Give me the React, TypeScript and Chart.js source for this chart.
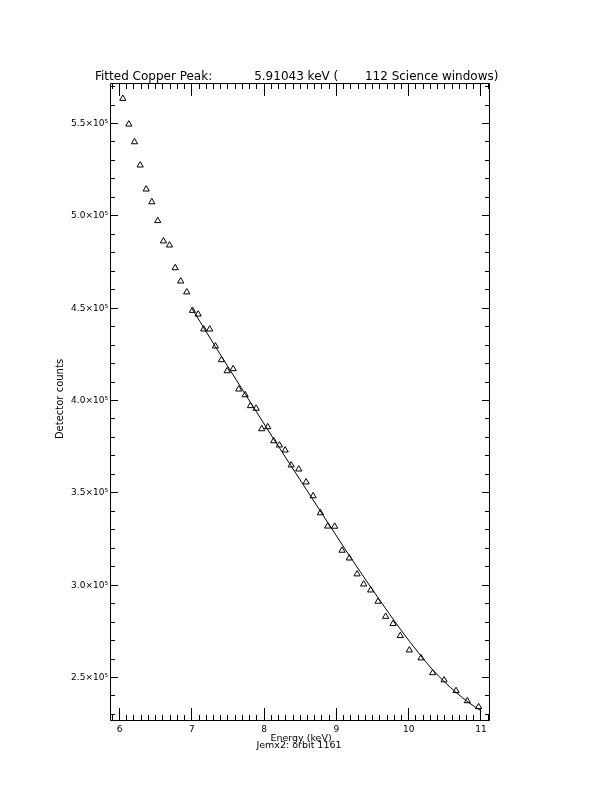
import React, { useEffect, useRef } from 'react';
import { Chart, registerables } from 'chart.js';

Chart.register(...registerables);

// ---- texts ----
const titleText = 'Fitted Copper Peak:           5.91043 keV (       112 Science windows)';
const xAxisTitle = 'Energy (keV)';
const xSubTitle = 'Jemx2: orbit 1161';
const yAxisTitle = 'Detector counts';

// ---- measured spectrum (triangles) ----
const energies = [
  6.046, 6.129, 6.207, 6.286, 6.369, 6.447, 6.529, 6.608, 6.691, 6.770,
  6.847, 6.930, 7.009, 7.088, 7.165, 7.248, 7.327, 7.410, 7.489, 7.572,
  7.649, 7.738, 7.811, 7.890, 7.967, 8.050, 8.133, 8.212, 8.291, 8.374,
  8.479, 8.581, 8.678, 8.779, 8.879, 8.976, 9.079, 9.179, 9.286, 9.377,
  9.474, 9.576, 9.681, 9.784, 9.884, 10.009, 10.171, 10.331, 10.489, 10.655,
  10.811, 10.967,
];
const counts = [
  563500, 549600, 540000, 527400, 514400, 507500, 497300, 486300, 484100, 471800,
  464600, 458700, 448700, 446700, 438600, 438600, 429400, 422000, 416000, 417100,
  406100, 403000, 397100, 395700, 384600, 385700, 378100, 375800, 373100, 365000,
  362800, 355800, 348300, 339100, 331900, 331800, 318800, 314600, 306000, 300500,
  297300, 291200, 283000, 279100, 272600, 264800, 260500, 252500, 248600, 242800,
  237300, 234100,
];

// ---- fitted curve (solid line) ----
const fitEnergies = [6.995, 7.327, 7.742, 8.157, 8.581, 8.986, 9.179, 9.576, 9.884, 10.161, 10.331, 10.493, 10.659, 10.825, 11.004];
const fitCounts = [450300, 429100, 403300, 377700, 352000, 327600, 316000, 293200, 276200, 262100, 254200, 247700, 241800, 236600, 231800];

// ---- axes ----
const xMin = 5.8686;
const xMax = 11.1245;
const yMin = 226440;
const yMax = 571930;
const xMajorTicks = [6, 7, 8, 9, 10, 11];
const yMajorTicks = [250000, 300000, 350000, 400000, 450000, 500000, 550000];
const xMinorTicks = [
  5.9, 6.1, 6.2, 6.3, 6.4, 6.5, 6.6, 6.7, 6.8, 6.9,
  7.1, 7.2, 7.3, 7.4, 7.5, 7.6, 7.7, 7.8, 7.9,
  8.1, 8.2, 8.3, 8.4, 8.5, 8.6, 8.7, 8.8, 8.9,
  9.1, 9.2, 9.3, 9.4, 9.5, 9.6, 9.7, 9.8, 9.9,
  10.1, 10.2, 10.3, 10.4, 10.5, 10.6, 10.7, 10.8, 10.9, 11.1,
];
const yMinorTicks = [
  230000, 240000, 260000, 270000, 280000, 290000, 310000, 320000, 330000, 340000,
  360000, 370000, 380000, 390000, 410000, 420000, 430000, 440000, 460000, 470000,
  480000, 490000, 510000, 520000, 530000, 540000, 560000, 570000,
];

const FONT = '"DejaVu Sans", "Liberation Sans", sans-serif';

const idlPlugin = {
  id: 'idlFrame',
  afterDraw(chart: any) {
    const { ctx, chartArea: a, scales } = chart;
    const xs = scales.x;
    const ys = scales.y;
    ctx.save();
    ctx.strokeStyle = '#000';
    ctx.lineWidth = 1;
    ctx.beginPath();
    ctx.rect(a.left + 0.5, a.top + 0.5, a.right - a.left - 1, a.bottom - a.top - 1);
    const xt = (v: number, len: number) => {
      const p = Math.floor(xs.getPixelForValue(v)) + 0.5;
      ctx.moveTo(p, a.bottom);
      ctx.lineTo(p, a.bottom - len);
      ctx.moveTo(p, a.top);
      ctx.lineTo(p, a.top + len);
    };
    const yt = (v: number, len: number) => {
      const p = Math.floor(ys.getPixelForValue(v)) + 0.5;
      ctx.moveTo(a.left, p);
      ctx.lineTo(a.left + len, p);
      ctx.moveTo(a.right, p);
      ctx.lineTo(a.right - len, p);
    };
    xMajorTicks.forEach((v) => xt(v, 13));
    xMinorTicks.forEach((v) => xt(v, 6));
    yMajorTicks.forEach((v) => yt(v, 8));
    yMinorTicks.forEach((v) => yt(v, 5));
    ctx.stroke();

    ctx.fillStyle = '#000';
    ctx.textBaseline = 'alphabetic';
    ctx.textAlign = 'left';
    ctx.font = '12px ' + FONT;
    ctx.fillText(titleText, 95, 79.5);

    ctx.textAlign = 'center';
    ctx.font = '9.5px ' + FONT;
    ctx.fillText(xAxisTitle, 301, 740.5);
    ctx.fillText(xSubTitle, 299, 748);

    ctx.translate(60, (a.top + a.bottom) / 2 - 3);
    ctx.rotate(-Math.PI / 2);
    ctx.font = '10px ' + FONT;
    ctx.textBaseline = 'middle';
    ctx.fillText(yAxisTitle, 0, 0);
    ctx.restore();
  },
};

export default function App() {
  const ref = useRef<HTMLCanvasElement | null>(null);
  useEffect(() => {
    if (!ref.current) return;
    const chart = new Chart(ref.current, {
      type: 'scatter',
      data: {
        datasets: [
          {
            label: 'fit',
            data: fitEnergies.map((x, i) => ({ x, y: fitCounts[i] })),
            showLine: true,
            borderColor: '#000',
            borderWidth: 1,
            pointRadius: 0,
            cubicInterpolationMode: 'monotone',
            fill: false,
          } as any,
          {
            label: 'data',
            data: energies.map((x, i) => ({ x, y: counts[i] })),
            showLine: false,
            pointStyle: 'triangle',
            pointRadius: 3.6,
            pointBorderWidth: 1,
            pointBorderColor: '#000',
            pointBackgroundColor: 'rgba(0,0,0,0)',
          } as any,
        ],
      },
      options: {
        responsive: false,
        animation: false,
        devicePixelRatio: 1,
        layout: { padding: { left: 0, top: 83, right: 122, bottom: 0 } },
        plugins: {
          legend: { display: false },
          tooltip: { enabled: false },
          title: { display: false },
        },
        scales: {
          x: {
            type: 'linear',
            position: 'bottom',
            min: xMin,
            max: xMax,
            grid: { display: false, drawTicks: false },
            border: { display: false },
            afterBuildTicks: (s: any) => {
              s.ticks = xMajorTicks.map((v) => ({ value: v }));
            },
            afterFit: (s: any) => {
              s.height = 71;
            },
            ticks: {
              color: '#000',
              font: { family: FONT, size: 9 },
              padding: 3.5,
              maxRotation: 0,
              autoSkip: false,
              callback: (v: any) => String(v),
            },
          },
          y: {
            type: 'linear',
            position: 'left',
            min: yMin,
            max: yMax,
            grid: { display: false, drawTicks: false },
            border: { display: false },
            afterBuildTicks: (s: any) => {
              s.ticks = yMajorTicks.map((v) => ({ value: v }));
            },
            afterFit: (s: any) => {
              s.width = 110;
            },
            ticks: {
              color: '#000',
              font: { family: FONT, size: 9 },
              padding: 2,
              autoSkip: false,
              callback: (v: any) => (Number(v) / 1e5).toFixed(1) + '×10⁵',
            },
          },
        },
      } as any,
      plugins: [idlPlugin],
    });
    return () => chart.destroy();
  }, []);

  return (
    <div style={{ position: 'absolute', left: 0, top: 0, width: 612, height: 792, background: '#fff' }}>
      <canvas ref={ref} width={612} height={792} style={{ display: 'block', width: 612, height: 792 }} />
    </div>
  );
}
